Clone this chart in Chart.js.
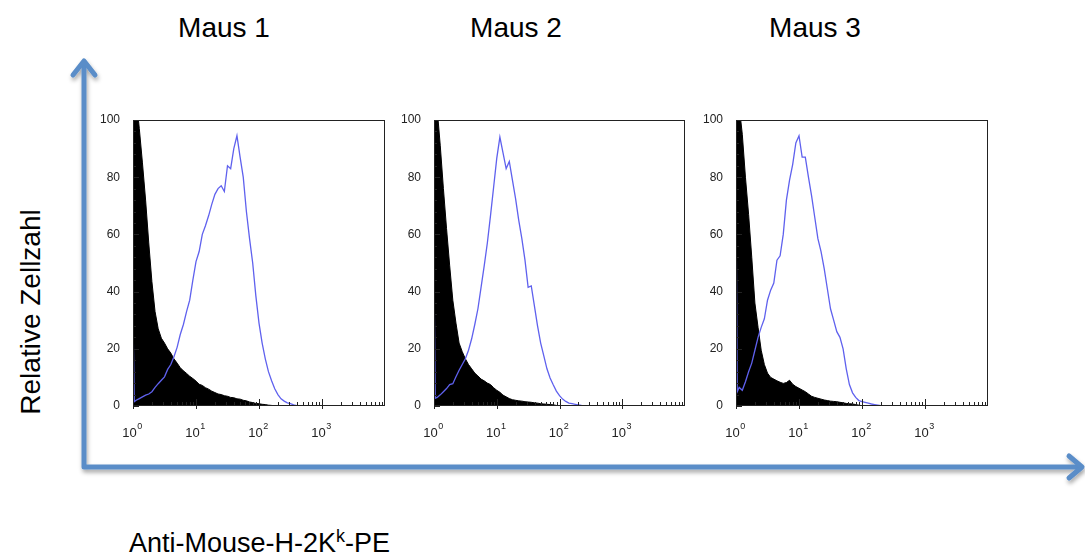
<!DOCTYPE html>
<html>
<head>
<meta charset="utf-8">
<script src="https://cdn.jsdelivr.net/npm/chart.js@4.4.1/dist/chart.umd.min.js"></script>
<style>
    html, body { margin: 0; padding: 0; background: #fff; }
    #stage { position: relative; width: 1085px; height: 555px; overflow: hidden; }
    #stage svg { position: absolute; left: 0; top: 0; }
    #stage canvas { position: absolute; top: 110px; }
</style>
</head>
<body>
<div id="stage">
    <svg width="1085" height="555" font-family="'Liberation Sans', Arial, sans-serif" fill="#000">
        <defs>
            <filter id="shadow" x="-5%" y="-5%" width="110%" height="110%">
                <feDropShadow dx="1" dy="3" stdDeviation="2" flood-color="#000" flood-opacity="0.35"/>
            </filter>
        </defs>
        <g stroke="#5a8dc8" stroke-width="5" fill="none" stroke-linecap="round" stroke-linejoin="round" filter="url(#shadow)">
            <polyline points="84,63 84,467 1080,467"/>
            <polyline points="73,75 84,61 95,75"/>
            <polyline points="1069,456 1082,467 1069,478"/>
        </g>
        <text x="224" y="37" font-size="28" text-anchor="middle">Maus 1</text>
        <text x="516" y="37" font-size="28" text-anchor="middle">Maus 2</text>
        <text x="815" y="37" font-size="28" text-anchor="middle">Maus 3</text>
        <text transform="translate(40,312) rotate(-90)" font-size="28" text-anchor="middle">Relative Zellzahl</text>
        <text x="129" y="552" font-size="27">Anti-Mouse-H-2K<tspan dy="-10" font-size="18">k</tspan><tspan dy="10" font-size="27">-PE</tspan></text>
    </svg>
    <canvas id="maus1" width="302" height="340" style="left:93px"></canvas>
    <canvas id="maus2" width="301" height="340" style="left:394px"></canvas>
    <canvas id="maus3" width="302" height="340" style="left:696px"></canvas>
</div>
<script>
// x = log10 of fluorescence (decades, 10^0 .. 10^4), y = relative cell count
const logFL = [0, 0.02, 0.05, 0.10, 0.15, 0.20, 0.25, 0.30, 0.35, 0.40, 0.45, 0.50, 0.55, 0.60, 0.65, 0.70,
    0.75, 0.80, 0.85, 0.90, 0.95, 1.00, 1.05, 1.10, 1.15, 1.20, 1.25, 1.30, 1.35, 1.40, 1.45, 1.50, 1.55,
    1.60, 1.65, 1.70, 1.75, 1.80, 1.85, 1.90, 1.95, 2.00, 2.05, 2.10, 2.15, 2.20, 2.25, 2.30, 2.35, 2.40,
    2.45, 2.50, 2.55, 2.60, 2.65, 2.70];

// isotype control (black, filled)
const maus1Control = [115, 112, 108, 97, 85, 72, 57, 43.5, 33, 27, 23.7, 22, 20, 18.5, 16.5, 15, 13.4, 12.3,
    11.4, 10.4, 9.6, 8.7, 7.6, 7.2, 6.4, 5.9, 5.2, 4.7, 4.2, 4.0, 3.6, 3.4, 3.0, 2.9, 2.5, 2.4, 2.0, 1.8,
    1.4, 1.2, 0.9, 0.8, 0.6, 0.5, 0.3, 0.2, 0.1, 0.1, 0];
const maus2Control = [115, 112, 104, 91, 76, 62, 49, 37, 29, 22, 19, 16.5, 14.5, 13, 11.5, 10.5, 9.4, 8.8, 8,
    7.5, 6.4, 5.5, 4.8, 3.8, 3.2, 2.6, 2.2, 2, 1.8, 1.7, 1.5, 1.4, 1.3, 1.1, 1, 0.8, 0.7, 0.6, 0.5, 0.4,
    0.2, 0.1, 0];
const maus3Control = [115, 112, 105, 95, 80, 67, 52, 36, 27.5, 19.5, 14.5, 11.5, 10, 9.4, 8.8, 8.3, 7.9, 8.2,
    9, 7.6, 6.8, 6.2, 5.6, 5, 4.2, 3.4, 3, 2.7, 2.4, 2.1, 1.9, 1.7, 1.6, 1.5, 1.3, 1.1, 0.9, 0.8, 0.7, 0.5,
    0.3, 0.1, 0];

// H-2Kk stained (blue line)
const maus1Stained = [30, 1.5, 2, 2.6, 3.2, 3.8, 4.2, 5, 6.5, 7.8, 9, 10.2, 12.8, 14.5, 17.2, 20.5, 25, 28.5,
    33, 37, 44, 50.5, 54, 60, 63, 66.5, 70.5, 74, 76, 77, 75, 84, 83, 90, 94.5, 87, 80, 68, 58.5, 50, 38.5,
    29, 22, 16.5, 12, 8.8, 6, 4, 2.5, 1.7, 1.1, 0.8, 0.4, 0.1, 0];
const maus2Stained = [44, 2.7, 3, 3.9, 5, 6.1, 7.5, 7.8, 10.2, 12.5, 14.5, 16.5, 19.5, 23.5, 28.5, 34, 41.5,
    49, 57, 66.5, 76.5, 86.6, 94, 88.5, 83, 85.5, 79, 72.5, 65, 58.5, 51, 41.5, 42, 35, 28, 22, 17.5, 13,
    9.8, 7.4, 5.2, 3.6, 2.4, 1.6, 1, 0.8, 0.6, 0.4, 0.2, 0.1, 0];
const maus3Stained = [71, 5, 6.5, 5.5, 8.5, 12, 15, 19.5, 24, 27.5, 30.5, 37, 40.5, 43, 51, 52.5, 60, 72, 79,
    84.5, 92, 94.5, 87, 87, 80, 73.5, 66, 58.5, 54, 48, 41, 34, 30, 26, 24, 20, 13, 7.5, 4.6, 3, 1.9, 1.5,
    1.3, 1, 0.7, 0.5, 0.3, 0.1, 0];

const decadeExponents = ['0', '1', '2', '3'];
const countTicks = [0, 20, 40, 60, 80, 100];

const FONT = "'Liberation Sans', Arial, sans-serif";

function toPoints(values) {
    return values.map((v, i) => ({ x: logFL[i], y: v }));
}

// box around the plot, inward tick marks and the 10^n decade labels
const frameTicks = {
    id: 'frameTicks',
    afterDraw(chart) {
        const { ctx, chartArea: a, scales: { x, y } } = chart;
        ctx.save();
        ctx.strokeStyle = '#222';
        ctx.lineWidth = 1;
        ctx.strokeRect(a.left + 0.5, a.top + 0.5, a.width - 1, a.height - 1);
        ctx.beginPath();
        for (let d = 0; d < 4; d++) {
            for (let k = 1; k <= 9; k++) {
                const px = Math.round(x.getPixelForValue(d + Math.log10(k))) + 0.5;
                const len = k === 1 ? 7 : 4;
                ctx.moveTo(px, a.bottom);
                ctx.lineTo(px, a.bottom - len);
                if (k === 1) {
                    ctx.moveTo(px, a.bottom);
                    ctx.lineTo(px, a.bottom + 3);
                }
            }
        }
        for (let v = 0; v <= 100; v += 4) {
            const py = Math.round(y.getPixelForValue(v)) + 0.5;
            const len = v % 20 === 0 ? 6 : 3;
            ctx.moveTo(a.left, py);
            ctx.lineTo(a.left + len, py);
        }
        ctx.stroke();

        // decade labels: "10" with a raised exponent
        ctx.fillStyle = '#222';
        ctx.textBaseline = 'alphabetic';
        ctx.textAlign = 'left';
        decadeExponents.forEach((e, d) => {
            const px = x.getPixelForValue(d);
            ctx.font = `13px ${FONT}`;
            const wBase = ctx.measureText('10').width;
            ctx.font = `9px ${FONT}`;
            const wExp = ctx.measureText(e).width;
            const start = px - (wBase + wExp) / 2 - 1;
            ctx.font = `13px ${FONT}`;
            ctx.fillText('10', start, a.bottom + 31);
            ctx.font = `9px ${FONT}`;
            ctx.fillText(e, start + wBase + 0.5, a.bottom + 23);
        });
        ctx.restore();
    }
};

function makeHistogram(id, control, stained) {
    return new Chart(id, {
        type: 'line',
        data: {
            datasets: [{
                label: 'H-2Kk',
                data: toPoints(stained),
                borderColor: '#5f61ee',
                borderWidth: 1.3,
                pointRadius: 0,
                fill: false,
                order: 0
            }, {
                label: 'Kontrolle',
                data: toPoints(control),
                borderColor: '#000',
                backgroundColor: '#000',
                borderWidth: 1,
                pointRadius: 0,
                fill: 'origin',
                order: 1
            }]
        },
        options: {
            responsive: false,
            animation: false,
            layout: { padding: { top: 10, right: 10 } },
            plugins: {
                legend: { display: false },
                tooltip: { enabled: false }
            },
            scales: {
                x: {
                    type: 'linear',
                    min: 0,
                    max: 4,
                    grid: { display: false },
                    border: { display: false },
                    afterBuildTicks: (scale) => {
                        scale.ticks = decadeExponents.map((_, i) => ({ value: i }));
                    },
                    afterFit: (scale) => {
                        scale.height = 44;
                        scale.paddingLeft = 0;
                        scale.paddingRight = 0;
                    },
                    ticks: { display: false }
                },
                y: {
                    min: 0,
                    max: 100,
                    grid: { display: false },
                    border: { display: false },
                    afterBuildTicks: (scale) => {
                        scale.ticks = countTicks.map(value => ({ value }));
                    },
                    afterFit: (scale) => {
                        scale.width = 40;
                        scale.paddingTop = 0;
                        scale.paddingBottom = 0;
                    },
                    ticks: {
                        padding: 5,
                        color: '#222',
                        font: { size: 12, family: FONT }
                    }
                }
            }
        },
        plugins: [frameTicks]
    });
}

makeHistogram('maus1', maus1Control, maus1Stained);
makeHistogram('maus2', maus2Control, maus2Stained);
makeHistogram('maus3', maus3Control, maus3Stained);
</script>
</body>
</html>
